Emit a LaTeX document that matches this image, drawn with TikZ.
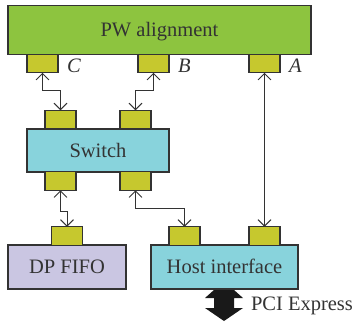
\documentclass[tikz,border=0pt]{standalone}
\usepackage{fontspec}
\setmainfont{Liberation Serif}
\usetikzlibrary{arrows.meta}
\definecolor{pwgreen}{HTML}{8DC43F}
\definecolor{portcol}{HTML}{C6C82E}
\definecolor{swcyan}{HTML}{88D3DC}
\definecolor{fifocol}{HTML}{CAC6E2}
\definecolor{edge}{HTML}{333333}
\begin{document}
\begin{tikzpicture}[x=1pt,y=-1pt,
  every node/.style={inner sep=0pt, outer sep=0pt, text=edge, font=\fontsize{20.5}{22}\selectfont},
  blk/.style={draw=edge, line width=1.2pt, rectangle, minimum width=#1, text height=13.5pt, text depth=0pt},
  port/.style={draw=edge, line width=1.2pt, fill=portcol, rectangle, minimum width=31pt, minimum height=18.5pt},
  lbl/.style={font=\fontsize{20.5}{22}\selectfont\itshape, anchor=base west},
  conn/.style={draw=edge, line width=0.9pt, {Straight Barb[length=6.5pt,width=13pt]}-{Straight Barb[length=6.5pt,width=13pt]}}
]
\useasboundingbox (0,0) rectangle (354,322);

% PCI Express double arrow (drawn first, top hidden by host box)
\fill[black!90] (224,281) -- (243,298) -- (234,298) -- (234,308) -- (243,308) -- (224,321)
  -- (205,308) -- (214,308) -- (214,298) -- (205,298) -- cycle;
\coordinate (pcie) at (243,310);

\node[blk=303pt, minimum height=49pt, fill=pwgreen] (pw) at (159.5,30) {PW alignment};
\node[port] (pC) at (42.5,63.5) {};
\node[port] (pB) at (153.5,63.5) {};
\node[port] (pA) at (264.5,63.5) {};
\node[lbl] (lC) at ([xshift=9pt]pC.south east) {C};
\node[lbl] (lB) at ([xshift=9pt]pB.south east) {B};
\node[lbl] (lA) at ([xshift=9pt]pA.south east) {A};

\node[blk=142pt, minimum height=43pt, fill=swcyan] (sw) at (98,150.5) {Switch};
\node[port] (sT1) at (60.5,119.5) {};
\node[port] (sT2) at (135.5,119.5) {};
\node[port] (sB1) at (60.5,181) {};
\node[port] (sB2) at (135.5,181) {};

\node[blk=118pt, minimum height=44pt, fill=fifocol] (fifo) at (67,267) {DP FIFO};
\node[port] (fP) at (67,236) {};

\node[blk=147pt, minimum height=44pt, fill=swcyan] (host) at (224.5,267) {Host interface};
\node[port] (hP1) at (184.5,236) {};
\node[port] (hP2) at (264.5,236) {};

\node[anchor=base west] (pcl) at ([xshift=8pt]pcie) {PCI Express};

\draw[conn] (pC.south) -- ++(0,18) -| (sT1.north);
\draw[conn] (pB.south) -- ++(0,18) -| (sT2.north);
\draw[conn] (sB1.south) -- ++(0,21) -| (fP.north);
\draw[conn] (sB2.south) -- ++(0,18) -| (hP1.north);
\draw[conn] (pA.south) -- (hP2.north);
\end{tikzpicture}
\end{document}
